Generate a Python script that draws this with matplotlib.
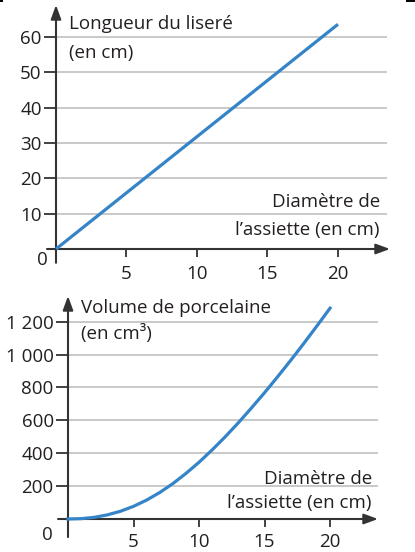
import matplotlib
matplotlib.use('Agg')
import matplotlib.pyplot as plt
from matplotlib.patches import Rectangle

# length of the rim vs plate diameter
diam_top = [0, 5, 10, 15, 20]
longueur = [0, 15.9, 31.8, 47.7, 63.6]

# porcelain volume vs plate diameter
diam_bot = [0, 1, 2, 3, 4, 5, 6, 7, 8, 9, 10, 11, 12, 13, 14, 15, 16, 17, 18, 19, 20]
volume = [0, 2, 10, 25, 47, 77, 115, 161, 215, 277, 345, 420, 500, 585, 675,
          768, 865, 965, 1068, 1174, 1282]

xticks = [5, 10, 15, 20]
yticks_top = [10, 20, 30, 40, 50, 60]
yticks_bot = [200, 400, 600, 800, 1000, 1200]
ylabels_bot = ['200', '400', '600', '800', '1 000', '1 200']

plt.rcParams['font.family'] = ['Open Sans', 'DejaVu Sans']

BLUE = '#3584c8'
GRID = '#c9c9c9'
AXC = '#333333'
TXT = '#231f20'
FS_TICK = 13.5
FS_LAB = 13.5

W, H = 415, 552
fig = plt.figure(figsize=(W / 100, H / 100), dpi=100)


def make_axes(rect, xmax, ymax, ext_x, ext_y, xpad):
    ax = fig.add_axes(rect)
    ax.set_xlim(0, xmax)
    ax.set_ylim(0, ymax)
    for s in ax.spines.values():
        s.set_visible(False)
    ax.patch.set_alpha(0)
    arrow = dict(arrowstyle='-|>,head_length=0.6,head_width=0.22', color=AXC, lw=1.5,
                 mutation_scale=14, shrinkA=0, shrinkB=0)
    ax.annotate('', xy=(xmax, 0), xytext=(-ext_x, 0), annotation_clip=False, arrowprops=arrow)
    ax.annotate('', xy=(0, ymax), xytext=(0, -ext_y), annotation_clip=False, arrowprops=arrow)
    ax.tick_params(axis='both', direction='out', width=1.3, color=AXC,
                   labelsize=FS_TICK, labelcolor=TXT)
    ax.tick_params(axis='x', length=5.8, pad=xpad)
    ax.tick_params(axis='y', length=8.8, pad=1.5)
    ax.set_xticks(xticks)
    return ax


# ---- top chart ----
ax1 = make_axes([56 / W, 1 - 249 / H, 334 / W, 244 / H], 23.69, 69.06, 0.64, 3.9, 6.0)
ax1.set_yticks(yticks_top)
ax1.hlines(yticks_top, 0, 23.5, color=GRID, lw=1.4, zorder=1)
ax1.plot(diam_top, longueur, color=BLUE, lw=2.3, solid_capstyle='butt', zorder=3, clip_on=False)
ax1.text(-0.57, -0.6, '0', ha='right', va='top', fontsize=FS_TICK, color=TXT)
ax1.text(0.92, 62.3, 'Longueur du liseré', fontsize=FS_LAB, color=TXT, va='baseline')
ax1.text(0.92, 54.1, '(en cm)', fontsize=FS_LAB, color=TXT, va='baseline')
ax1.text(22.98, 11.9, 'Diamètre de', fontsize=FS_LAB, color=TXT, va='baseline', ha='right')
ax1.text(22.98, 4.0, 'l’assiette (en cm)', fontsize=FS_LAB, color=TXT, va='baseline', ha='right')

# ---- bottom chart ----
ax2 = make_axes([68 / W, 1 - 519 / H, 310 / W, 223 / H], 23.66, 1356, 0.76, 110, 4.0)
ax2.set_yticks(yticks_bot)
ax2.set_yticklabels(ylabels_bot)
ax2.hlines(yticks_bot, 0, 23.66, color=GRID, lw=1.4, zorder=1)
ax2.plot(diam_bot, volume, color=BLUE, lw=2.3, zorder=3, clip_on=False)
ax2.text(-1.15, -40, '0', ha='right', va='top', fontsize=FS_TICK, color=TXT)
ax2.text(1.0, 1253, 'Volume de porcelaine', fontsize=FS_LAB, color=TXT, va='baseline')
ax2.text(1.0, 1095, '(en cm³)', fontsize=FS_LAB, color=TXT, va='baseline')
ax2.text(23.2, 213, 'Diamètre de', fontsize=FS_LAB, color=TXT, va='baseline', ha='right')
ax2.text(23.2, 67, 'l’assiette (en cm)', fontsize=FS_LAB, color=TXT, va='baseline', ha='right')

# crop marks at the top corners of the scan
fig.add_artist(Rectangle((0, 1 - 2 / H), 3 / W, 2 / H, transform=fig.transFigure, color='black', lw=0))
fig.add_artist(Rectangle((406 / W, 1 - 2 / H), 9 / W, 2 / H, transform=fig.transFigure, color='black', lw=0))

fig.savefig('out.png', dpi=100)
